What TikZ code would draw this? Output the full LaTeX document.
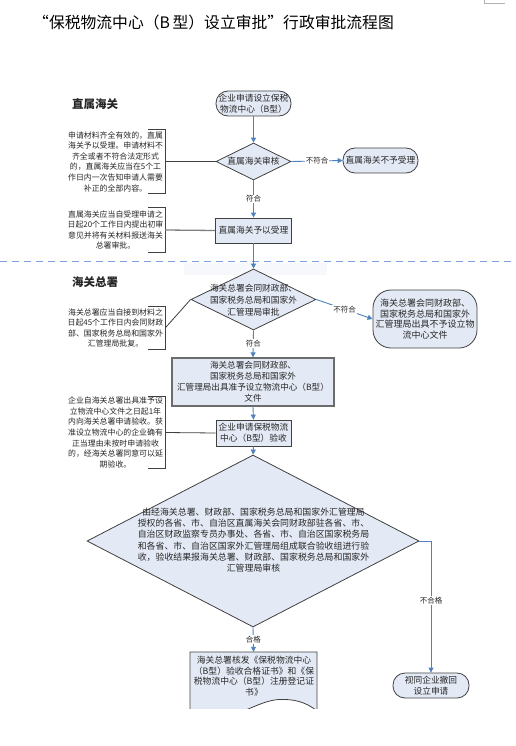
\documentclass[tikz,border=0pt]{standalone}
\usepackage{fontspec}
\setmainfont{Noto Sans CJK SC}
\usetikzlibrary{shapes.geometric,arrows.meta}
\definecolor{fillb}{HTML}{E4EAF5}
\definecolor{arrb}{HTML}{4F81BD}
\definecolor{dashb}{HTML}{7BA0DC}
\definecolor{edge}{HTML}{404040}
\definecolor{txt}{HTML}{262626}
\begin{document}
\begin{tikzpicture}[x=1pt,y=-1pt,
  font=\fontsize{8.7}{10.6}\selectfont, text=txt,
  box/.style={draw=edge, line width=0.8pt, fill=fillb, inner sep=0pt, align=center},
  term/.style={box, rounded corners=#1},
  dia/.style={draw=edge, line width=0.8pt, fill=fillb, diamond, inner sep=0pt},
  dtext/.style={inner sep=0pt, align=center},
  ann/.style={inner sep=0pt, align=center, text width=99pt, font=\fontsize{7.9}{10.6}\selectfont},
  brk/.style={draw=edge, line width=0.8pt},
  link/.style={draw=edge, line width=0.8pt},
  flow/.style={draw=arrb, line width=0.9pt, -{Triangle[length=5pt,width=5pt]}},
  lbl/.style={fill=white, inner sep=1pt, font=\fontsize{7.5}{9}\selectfont},
  sect/.style={inner sep=0pt, font=\fontsize{11.5}{13}\selectfont\bfseries},
]
\useasboundingbox (0,0) rectangle (515,746);
% crop mark
\draw[gray!60, line width=0.8pt] (484,0) -- (484,3.5) -- (505,3.5);
% title
\node[inner sep=0pt, anchor=west, font=\fontsize{15.8}{18}\selectfont, text=black] (title) at (33,22) {“保税物流中心（B\,型）设立审批”行政审批流程图};
% section labels
\node[sect] (sec1) at (95,104) {直属海关};
\node[sect] (sec2) at (95,282) {海关总署};
% faint ghost rectangle
\fill[fillb!35] (184,263) rectangle (327,275);
% dashed separator
\draw[dashb, line width=1pt, dash pattern=on 7pt off 5pt] (0,261) -- (515,261);

% nodes
\node[term=12pt, minimum width=75pt, minimum height=25pt] (start) at (253.5,103.5) {企业申请设立保税\\物流中心（B型）};
\node[dia, minimum width=75pt, minimum height=37pt] (d1) at (253.5,161.5) {};
\node[dtext] (d1t) at (d1.center) {直属海关审核};
\node[term=12pt, minimum width=75pt, minimum height=25pt] (rej1) at (380.5,160.5) {直属海关不予受理};
\node[box, minimum width=76pt, minimum height=25pt] (b2) at (253.5,230.5) {直属海关予以受理};

\node[dia, minimum width=125pt, minimum height=61pt] (d2) at (253.5,299.5) {};
\node[dtext, font=\fontsize{8.7}{11.8}\selectfont] (d2t) at (253.5,300) {海关总署会同财政部、\\国家税务总局和国家外\\汇管理局审批};
\node[term=18pt, minimum width=104pt, minimum height=58pt, font=\fontsize{9}{10.5}\selectfont] (rej2) at (425,319) {海关总署会同财政部、\\国家税务总局和国家外\\汇管理局出具不予设立物\\流中心文件};

\node[box, draw=gray!85!black, line width=1.2pt, minimum width=162pt, minimum height=48pt, font=\fontsize{8.6}{10.9}\selectfont] (b3) at (253,382) {海关总署会同财政部、\\国家税务总局和国家外\\汇管理局出具准予设立物流中心（B型）\\文件};
\node[box, minimum width=75pt, minimum height=26pt] (b4) at (253.5,433) {企业申请保税物流\\中心（B型）验收};

\node[dia, minimum width=332pt, minimum height=172pt] (d3) at (253,541) {};
\node[dtext, font=\fontsize{8.9}{11.2}\selectfont] (d3t) at (253.5,540) {由经海关总署、财政部、国家税务总局和国家外汇管理局\\授权的各省、市、自治区直属海关会同财政部驻各省、市、\\自治区财政监察专员办事处、各省、市、自治区国家税务局\\和各省、市、自治区国家外汇管理局组成联合验收组进行验\\收，验收结果报海关总署、财政部、国家税务总局和国家外\\汇管理局审核};

\node[term=12pt, minimum width=76pt, minimum height=25pt] (rej3) at (431,685.5) {视同企业撤回\\设立申请};

% document shape
\node[inner sep=0pt, minimum width=127pt, minimum height=56pt] (doc) at (253.5,680) {};
\begin{scope}
\clip (185,647) rectangle (322,708.5);
\draw[box] (190,652) -- (317,652) -- (317,711) .. controls (305,701) and (292,699) .. (279,699.5) .. controls (262,700.5) and (246,712) .. (228,716) .. controls (212,719) and (198,716) .. (190,712) -- cycle;
\end{scope}
\node[dtext, font=\fontsize{8.8}{10.7}\selectfont] (doct) at (254,676) {海关总署核发《保税物流中心\\（B型）验收合格证书》和《保\\税物流中心（B型）注册登记证\\书》};

% annotations
\node[ann, minimum height=63pt] (a1) at (115.5,161.5) {申请材料齐全有效的，直属\\海关予以受理。申请材料不\\齐全或者不符合法定形式\\的，直属海关应当在5个工\\作日内一次告知申请人需要\\补正的全部内容。};
\node[ann, minimum height=44pt] (a2) at (115.5,230) {直属海关应当自受理申请之\\日起20个工作日内提出初审\\意见并将有关材料报送海关\\总署审批。};
\node[ann, minimum height=42pt] (a3) at (115.5,328) {海关总署应当自接到材料之\\日起45个工作日内会同财政\\部、国家税务总局和国家外\\汇管理局批复。};
\node[ann, minimum height=71pt] (a4) at (115.5,432.5) {企业自海关总署出具准予设\\立物流中心文件之日起1年\\内向海关总署申请验收。获\\准设立物流中心的企业确有\\正当理由未按时申请验收\\的，经海关总署同意可以延\\期验收。};
\foreach \a in {a1,a2,a3,a4}{
  \draw[brk] ([xshift=-17pt]\a.north east) -- (\a.north east) -- (\a.south east) -- ([xshift=-17pt]\a.south east);
}
\draw[link] (a1.east) -- (d1.west);
\draw[draw=gray, line width=1.3pt] (a2.east) -- (b2.west);
\draw[link] (a3.east) -- (d2.west);
\draw[link] (a4.east) -- (b4.west);

% flow arrows
\draw[flow] (start.south) -- (d1.north);
\draw[flow] (d1.east) -- node[lbl] {不符合} (rej1.west);
\draw[flow] (d1.south) -- node[lbl] {符合} (b2.north);
\draw[flow] (b2.south) -- (d2.north);
\draw[flow] (d2.east) -- node[lbl] {不符合} (rej2.west);
\draw[flow] (d2.south) -- node[lbl] {符合} (b3.north);
\draw[flow] (b3.south) -- (b4.north);
\draw[flow] (b4.south) -- (d3.north);
\draw[flow] (d3.south) -- node[lbl] {合格} (doc.north);
\draw[flow] (d3.east) -| node[lbl, pos=0.727] {不合格} (rej3.north);
\end{tikzpicture}
\end{document}
